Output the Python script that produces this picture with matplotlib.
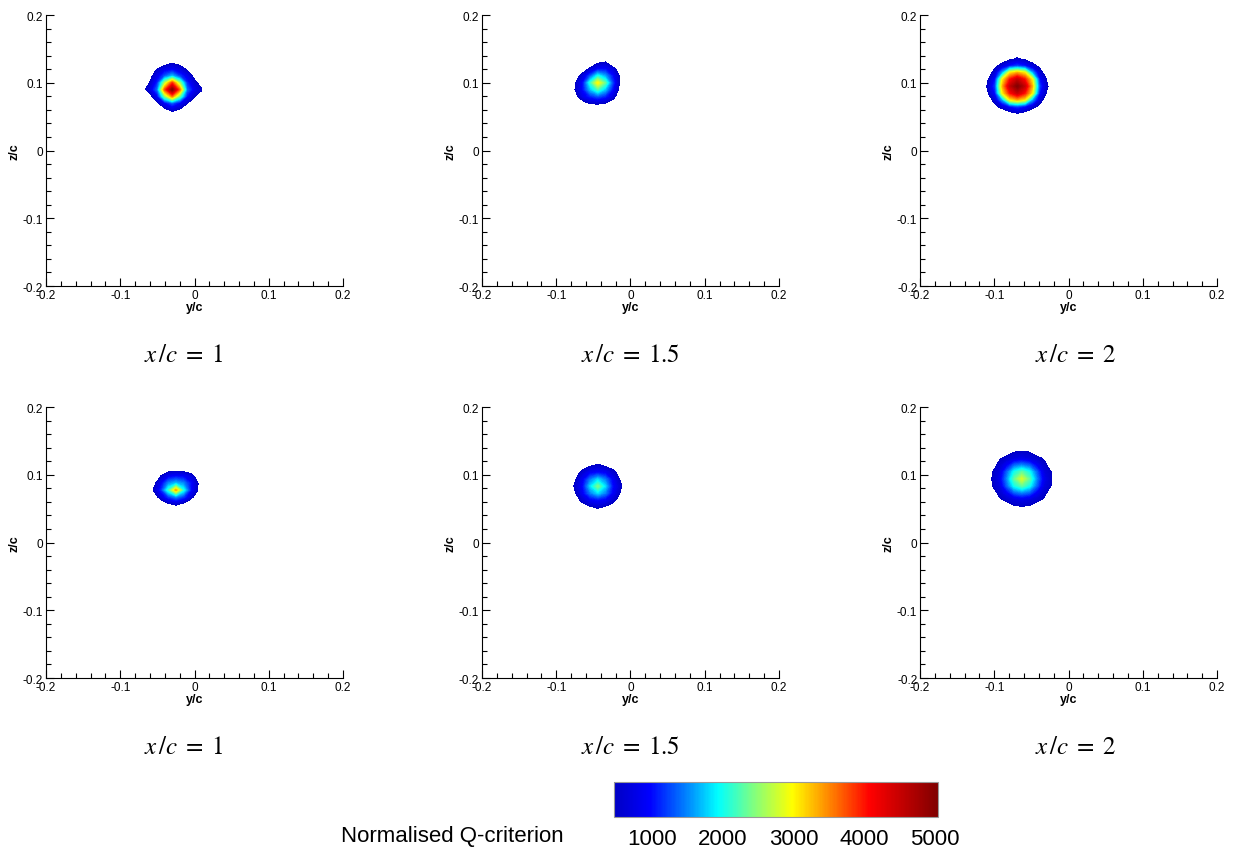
import numpy as np
import matplotlib.pyplot as plt
from matplotlib.colors import LinearSegmentedColormap, Normalize
from matplotlib.ticker import MultipleLocator

plt.rcParams['font.family'] = ['Liberation Sans', 'DejaVu Sans']
plt.rcParams['mathtext.fontset'] = 'stix'

# axis ticks
tick_vals = [-0.2, -0.1, 0.0, 0.1, 0.2]
tick_text = ['-0.2', '-0.1', '0', '0.1', '0.2']

# panel titles (top row, bottom row)
titles = [r'$x\,/c\;=\;1$', r'$x\,/c\;=\;1.5$', r'$x\,/c\;=\;2$',
          r'$x\,/c\;=\;1$', r'$x\,/c\;=\;1.5$', r'$x\,/c\;=\;2$']

# colour bar
cbar_ticks = [1000, 2000, 3000, 4000, 5000]
cbar_label = 'Normalised Q-criterion'
q_min, q_max = 460, 5040

# sampled Q field, spacing 0.01 c, rows from top to bottom
step = 0.01
# top-left sample node (y/c, z/c) of each patch
origins = [(-0.070, 0.140), (-0.084, 0.140), (-0.119, 0.145),
           (-0.065, 0.1175), (-0.084, 0.123), (-0.113, 0.144)]

q1 = [[0, 0, 0, 0, 0, 0, 0, 0, 0],
      [0, 0, 0, 200, 400, 300, 0, 0, 0],
      [0, 100, 500, 800, 900, 700, 400, 100, 0],
      [0, 300, 800, 1300, 1700, 1200, 800, 300, 0],
      [100, 500, 1100, 2600, 3800, 2500, 1100, 600, 200],
      [300, 700, 1400, 3700, 5000, 3600, 1400, 800, 500],
      [0, 300, 900, 2400, 3500, 2300, 1000, 500, 100],
      [0, 0, 400, 900, 1300, 900, 500, 100, 0],
      [0, 0, 0, 300, 600, 400, 0, 0, 0],
      [0, 0, 0, 0, 0, 0, 0, 0, 0]]

q2 = [[0, 0, 0, 0, 0, 0, 0, 0, 0],
      [0, 0, 0, 0, 400, 500, 0, 0, 0],
      [0, 0, 200, 600, 1000, 1000, 700, 200, 0],
      [0, 200, 700, 1300, 2000, 1600, 1000, 400, 0],
      [0, 450, 1000, 2100, 3000, 2300, 1200, 400, 0],
      [0, 500, 1000, 1700, 2200, 1700, 1000, 300, 0],
      [0, 300, 800, 1100, 1300, 1100, 700, 100, 0],
      [0, 0, 300, 500, 550, 450, 200, 0, 0],
      [0, 0, 0, 0, 0, 0, 0, 0, 0]]

q3 = [[0, 0, 0, 0, 100, 200, 100, 0, 0, 0, 0],
      [0, 0, 0, 200, 400, 520, 400, 200, 0, 0, 0],
      [0, 0, 350, 650, 1000, 1200, 1000, 650, 350, 0, 0],
      [0, 200, 650, 1600, 3000, 3300, 3000, 1600, 650, 200, 0],
      [100, 420, 1000, 3000, 4000, 4500, 4000, 3000, 1000, 420, 100],
      [200, 500, 1200, 3300, 4500, 5000, 4500, 3300, 1200, 500, 200],
      [100, 420, 1000, 3000, 4000, 4500, 4000, 3000, 1000, 420, 100],
      [0, 200, 650, 1600, 3000, 3300, 3000, 1600, 650, 200, 0],
      [0, 0, 350, 650, 1000, 1200, 1000, 650, 350, 0, 0],
      [0, 0, 0, 100, 300, 450, 300, 100, 0, 0, 0],
      [0, 0, 0, 0, 0, 0, 0, 0, 0, 0, 0]]

q4 = [[0, 0, 0, 0, 0, 0, 0, 0],
      [0, 0, 100, 250, 300, 250, 150, 0],
      [0, 0, 500, 900, 1000, 950, 700, 200],
      [0, 300, 900, 1500, 1700, 1500, 1000, 450],
      [0, 500, 1100, 2100, 3300, 2000, 1000, 420],
      [0, 200, 700, 1200, 1500, 1200, 650, 100],
      [0, 0, 150, 450, 600, 400, 100, 0],
      [0, 0, 0, 0, 0, 0, 0, 0]]

q5 = [[0, 0, 50, 120, 150, 120, 50, 0, 0],
      [0, 100, 300, 440, 560, 440, 300, 100, 0],
      [50, 300, 600, 900, 1000, 900, 600, 300, 50],
      [120, 440, 900, 1450, 1800, 1450, 900, 440, 120],
      [150, 560, 1000, 1800, 2400, 1800, 1000, 560, 150],
      [120, 440, 900, 1450, 1800, 1450, 900, 440, 120],
      [50, 300, 600, 900, 1000, 900, 600, 300, 50],
      [0, 100, 300, 440, 560, 440, 300, 100, 0],
      [0, 0, 50, 120, 150, 120, 50, 0, 0]]

q6 = [[0, 0, 0, 0, 80, 100, 80, 0, 0, 0, 0],
      [0, 0, 100, 300, 450, 470, 450, 300, 100, 0, 0],
      [0, 100, 430, 560, 700, 800, 700, 560, 430, 100, 0],
      [0, 300, 560, 900, 1350, 1500, 1350, 900, 560, 300, 0],
      [80, 450, 700, 1350, 2000, 2300, 2000, 1350, 700, 450, 80],
      [100, 470, 800, 1500, 2300, 2800, 2300, 1500, 800, 470, 100],
      [80, 450, 700, 1350, 2000, 2300, 2000, 1350, 700, 450, 80],
      [0, 300, 560, 900, 1350, 1500, 1350, 900, 560, 300, 0],
      [0, 100, 430, 560, 700, 800, 700, 560, 430, 100, 0],
      [0, 0, 100, 300, 450, 470, 450, 300, 100, 0, 0],
      [0, 0, 0, 0, 80, 100, 80, 0, 0, 0, 0]]

fields = [q1, q2, q3, q4, q5, q6]

# Tecplot-like rainbow
cmap = LinearSegmentedColormap.from_list('flood', [
    (0.00, '#0000c4'), (0.11, '#0000ff'), (0.22, '#0080ff'),
    (0.32, '#00ffff'), (0.43, '#80ff80'), (0.55, '#ffff00'),
    (0.67, '#ff8000'), (0.79, '#ff0000'), (1.00, '#800000')])
norm = Normalize(q_min, q_max)
levels = np.linspace(q_min, q_max, 120)

fig = plt.figure(figsize=(12.33, 8.54), dpi=100)

lefts = [0.0373, 0.3909, 0.7462]
bottoms = [0.6639, 0.2049]
title_x = [0.149, 0.511, 0.872]
title_y = [0.584, 0.125]

for i, q in enumerate(fields):
    row, col = divmod(i, 3)
    ax = fig.add_axes([lefts[col], bottoms[row], 0.2409, 0.3173])

    q = np.array(q, dtype=float)
    y0, z0 = origins[i]
    y = y0 + step * np.arange(q.shape[1])
    z = z0 - step * np.arange(q.shape[0])
    ax.contourf(y, z[::-1], q[::-1], levels=levels, cmap=cmap, norm=norm)

    ax.set_xlim(-0.2, 0.2)
    ax.set_ylim(-0.2, 0.2)
    ax.set_xticks(tick_vals)
    ax.set_xticklabels(tick_text)
    ax.set_yticks(tick_vals)
    ax.set_yticklabels(tick_text)
    ax.xaxis.set_minor_locator(MultipleLocator(0.02))
    ax.yaxis.set_minor_locator(MultipleLocator(0.02))
    ax.tick_params(which='both', direction='in', labelsize=8.5, width=0.8)
    ax.tick_params(which='major', length=6, pad=2)
    ax.tick_params(which='minor', length=3.5)
    ax.spines['top'].set_visible(False)
    ax.spines['right'].set_visible(False)
    ax.set_xlabel('y/c', fontsize=9, fontweight='bold', labelpad=0)
    ax.set_ylabel('z/c', fontsize=9, fontweight='bold', labelpad=2)

    fig.text(title_x[col], title_y[row], titles[i], fontsize=18,
             ha='center', va='center')

# colour bar
cax = fig.add_axes([0.498, 0.0422, 0.2628, 0.041])
sm = plt.cm.ScalarMappable(norm=norm, cmap=cmap)
cb = fig.colorbar(sm, cax=cax, orientation='horizontal', ticks=cbar_ticks)
cb.outline.set_edgecolor('#999999')
cb.outline.set_linewidth(0.8)
cax.tick_params(length=0, pad=8, labelsize=16)
fig.text(0.3665, 0.0205, cbar_label, fontsize=16, ha='center', va='center')

fig.savefig('out.png', dpi=100)
